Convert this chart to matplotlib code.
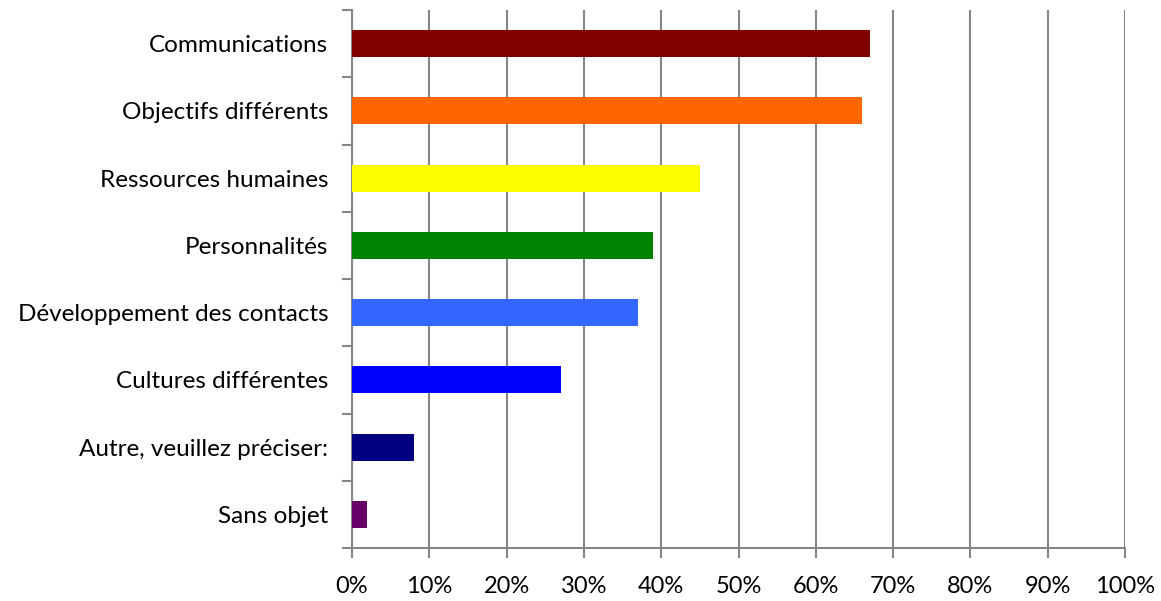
import numpy as np
import matplotlib.pyplot as plt

categories = ["Communications", "Objectifs différents", "Ressources humaines",
              "Personnalités", "Développement des contacts", "Cultures différentes",
              "Autre, veuillez préciser:", "Sans objet"]
values = [67, 66, 45, 39, 37, 27, 8, 2]
colors = ["#800000", "#FF6600", "#FFFF00", "#008000", "#3366FF", "#0000FF",
          "#000080", "#660066"]

plt.rcParams['font.family'] = ['Lato', 'DejaVu Sans']

fig = plt.figure(figsize=(11.61, 6.01), dpi=100)
ax = fig.add_axes([352/1161, 1 - 548/601, (1125 - 352)/1161, (548 - 10)/601])

n = len(categories)
y = np.arange(n)[::-1]
ax.barh(y, values, height=0.4, color=colors, zorder=3)

ax.set_xlim(0, 100)
ax.set_ylim(-0.5, n - 0.5)
ax.set_xticks(np.arange(0, 101, 10))
ax.set_xticklabels([f"{v}%" for v in range(0, 101, 10)], fontsize=17)
ax.set_yticks(y)
ax.set_yticklabels(categories, fontsize=17.5)
ax.tick_params(axis='y', length=0, pad=17)
ax.set_yticks(np.arange(-0.5, n, 1), minor=True)
ax.tick_params(axis='y', which='minor', length=7, color='#868686', width=1.5)
ax.tick_params(axis='x', length=7, color='#868686', width=1.5, pad=13)

ax.grid(axis='x', color='#868686', linewidth=1.5, zorder=0)
for s in ['top', 'right']:
    ax.spines[s].set_visible(False)
for s in ['left', 'bottom']:
    ax.spines[s].set_color('#868686')
    ax.spines[s].set_linewidth(1.5)

fig.savefig("out.png", dpi=100)
